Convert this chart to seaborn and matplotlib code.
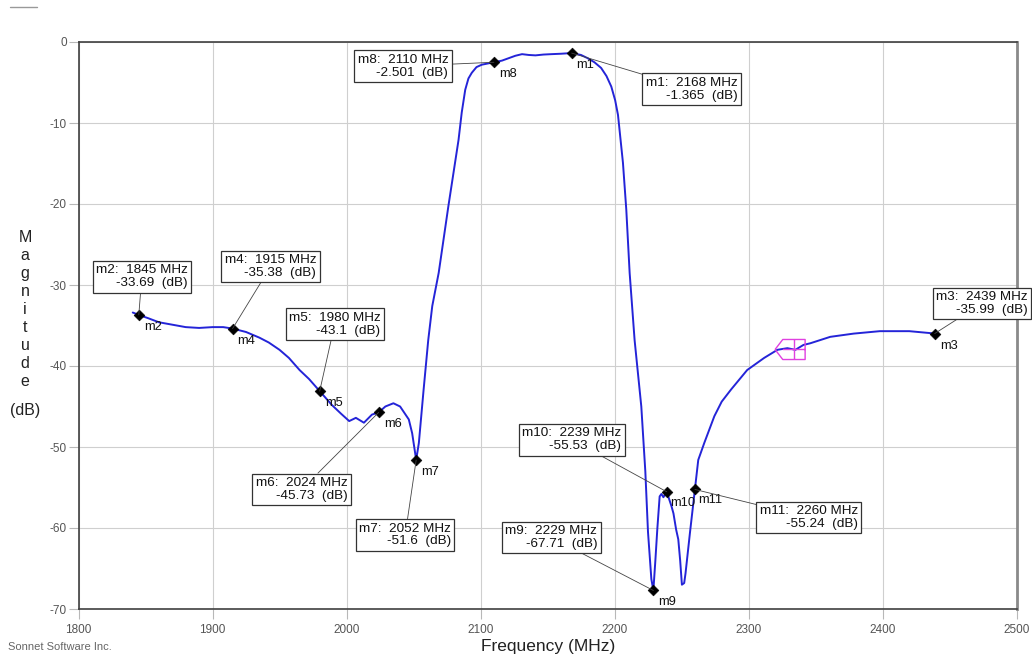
"""Sonnet-style filter response: magnitude (dB) vs frequency with marker call-outs."""

import matplotlib
matplotlib.use("Agg")
import matplotlib.pyplot as plt
from matplotlib.lines import Line2D
from matplotlib.path import Path
import seaborn as sns
import pandas as pd

# traced response curve
freq_mhz = [1840.5, 1845, 1852, 1860, 1870, 1880, 1890, 1900, 1908, 1915,
            1925, 1935, 1942, 1950, 1957, 1965, 1972, 1980, 1989, 1996,
            2002, 2007, 2013, 2019, 2024, 2029, 2035, 2040, 2046.5, 2049,
            2052, 2054, 2057.5, 2061, 2064, 2068.8, 2076, 2083.6, 2086, 2088.6,
            2091, 2093.5, 2097, 2101, 2110, 2116, 2121, 2126, 2131, 2136,
            2141, 2147, 2153, 2160, 2168, 2175, 2180, 2185, 2190, 2194,
            2197.6, 2200.5, 2202.6, 2206.3, 2208.8, 2211.3, 2215, 2220, 2223, 2225,
            2227.5, 2229, 2230.5, 2232, 2233.7, 2235, 2236.5, 2239, 2240.5, 2242.5,
            2244, 2246, 2247.6, 2249, 2250.3, 2252, 2253, 2256.3, 2260, 2262.5,
            2267, 2274.5, 2280, 2287, 2299, 2311.7, 2321.6, 2329, 2335, 2341,
            2346, 2361, 2378.5, 2398, 2420, 2439]
mag_db = [-33.4, -33.69, -34.1, -34.6, -34.9, -35.2, -35.3, -35.2, -35.2, -35.38,
          -35.8, -36.5, -37.1, -38.0, -39.0, -40.5, -41.6, -43.1, -44.8, -45.9,
          -46.8, -46.4, -47.0, -46.0, -45.73, -45.0, -44.6, -45.0, -46.6, -48.3,
          -51.6, -49.5, -43.0, -36.8, -32.6, -28.5, -20.3, -12.1, -8.7, -5.9,
          -4.5, -3.8, -3.1, -2.8, -2.501, -2.3, -2.0, -1.7, -1.5, -1.6,
          -1.65, -1.55, -1.5, -1.45, -1.365, -1.6, -2.0, -2.5, -3.2, -4.2,
          -5.5, -7.2, -9.0, -14.9, -20.7, -28.5, -36.8, -45.0, -53.0, -60.5,
          -66.3, -67.71, -64.0, -60.0, -56.1, -55.8, -56.2, -55.53, -56.3, -57.3,
          -58.2, -60.2, -61.4, -64.0, -67.0, -66.8, -65.6, -60.6, -55.24, -51.6,
          -49.5, -46.2, -44.4, -42.9, -40.5, -39.0, -38.0, -37.8, -38.0, -37.4,
          -37.2, -36.4, -36.0, -35.7, -35.7, -35.99]

# markers
marker_names = ["m1", "m2", "m3", "m4", "m5", "m6", "m7", "m8", "m9", "m10", "m11"]
marker_f = [2168, 1845, 2439, 1915, 1980, 2024, 2052, 2110, 2229, 2239, 2260]
marker_db = [-1.365, -33.69, -35.99, -35.38, -43.1, -45.73, -51.6, -2.501, -67.71, -55.53, -55.24]
marker_db_text = ["-1.365", "-33.69", "-35.99", "-35.38", "-43.1", "-45.73", "-51.6",
                  "-2.501", "-67.71", "-55.53", "-55.24"]

# call-out box offsets from each marker, in pixels
box_offset = {
    "m1": (120, -36), "m2": (3, 38), "m3": (47, 30), "m4": (38, 62),
    "m5": (15, 67), "m6": (-77, -77), "m7": (-11, -75), "m8": (-91, -4),
    "m9": (-102, 53), "m10": (-95, 52), "m11": (114, -28),
}
label_offset = {"m10": (3, -11), "m11": (3, -11)}

# pink cursor position
cursor_f = [2334]
cursor_db = [-37.9]

x_ticks = [1800, 1900, 2000, 2100, 2200, 2300, 2400, 2500]
y_ticks = [0, -10, -20, -30, -40, -50, -60, -70]

sns.set_theme(style="whitegrid")
plt.rcParams["font.family"] = ["Liberation Sans", "DejaVu Sans"]
plt.rcParams["axes.unicode_minus"] = False

fig = plt.figure(figsize=(10.32, 6.6), dpi=100)
ax = fig.add_axes([78.5 / 1032, 1 - 609 / 660, 938 / 1032, 567 / 660])

curve = pd.DataFrame({"f": freq_mhz, "db": mag_db})
sns.lineplot(data=curve, x="f", y="db", color="#2424d8", lw=1.4, ax=ax, zorder=3)

marks = pd.DataFrame({"f": marker_f, "db": marker_db})
sns.scatterplot(data=marks, x="f", y="db", marker="D", s=30, color="black",
                edgecolor="black", ax=ax, zorder=5)

# cursor glyph: left-pointing pentagon with a cross
cur_path = Path(
    [(-19.4, 0), (-11.7, 10), (10.6, 10), (10.6, -10), (-11.7, -10), (-19.4, 0),
     (0, 10), (0, -10), (-11.7, 0), (10.6, 0)],
    [Path.MOVETO, Path.LINETO, Path.LINETO, Path.LINETO, Path.LINETO, Path.LINETO,
     Path.MOVETO, Path.LINETO, Path.MOVETO, Path.LINETO],
)
ax.plot(cursor_f, cursor_db, marker=cur_path, markersize=28, ls="none",
        markerfacecolor="none", markeredgecolor="#e040e0", markeredgewidth=1, zorder=4)

for name, f, db, dtxt in zip(marker_names, marker_f, marker_db, marker_db_text):
    lx, ly = label_offset.get(name, (5, -12))
    ax.annotate(name, (f, db), xytext=(lx, ly), textcoords="offset pixels",
                ha="left", va="center", fontsize=9.3, color="#111111", zorder=6)
    bx, by = box_offset[name]
    ax.annotate(f"{name}:  {f} MHz\n{dtxt}  (dB)", (f, db), xytext=(bx, by),
                textcoords="offset pixels", ha="center", va="center",
                multialignment="right", fontsize=9.7, color="#111111",
                linespacing=1.1, annotation_clip=False, zorder=7,
                bbox=dict(boxstyle="square,pad=0.25", fc="white", ec="#333333", lw=0.9),
                arrowprops=dict(arrowstyle="-", color="#444444", lw=0.6,
                                shrinkA=0, shrinkB=0))

ax.set_xlim(1800, 2500)
ax.set_ylim(-70, 0)
ax.set_xticks(x_ticks)
ax.set_yticks(y_ticks)
ax.grid(True, color="#cfcfcf", lw=0.8)
ax.set_facecolor("white")
ax.tick_params(axis="both", direction="out", length=7, width=0.8, color="#b8b8b8",
               labelcolor="#555555", labelsize=8.5)
ax.tick_params(axis="x", pad=4)
ax.tick_params(axis="y", pad=1.5)
ax.tick_params(bottom=True, left=True)
for side in ["left", "top", "bottom"]:
    ax.spines[side].set_color("#404040")
    ax.spines[side].set_linewidth(1.2)
ax.spines["right"].set_color("#8a8a8a")
ax.spines["right"].set_linewidth(2)
ax.set_xlabel("")
ax.set_ylabel("")

fig.text(548 / 1032, 1 - 647 / 660, "Frequency (MHz)", ha="center", va="center",
         fontsize=12.5, color="#222222")
for i, ch in enumerate("Magnitude"):
    fig.text(25 / 1032, 1 - (238 + 17.9 * i) / 660, ch, ha="center", va="center",
             fontsize=11.5, color="#222222")
fig.text(25 / 1032, 1 - 410 / 660, "(dB)", ha="center", va="center",
         fontsize=11.5, color="#222222")
fig.text(8 / 1032, 1 - 647 / 660, "Sonnet Software Inc.", ha="left", va="center",
         fontsize=8, color="#666666")
fig.add_artist(Line2D([10 / 1032, 37 / 1032], [1 - 7 / 660, 1 - 7 / 660],
                      color="#999999", lw=1))

fig.savefig("out.png", dpi=100)
